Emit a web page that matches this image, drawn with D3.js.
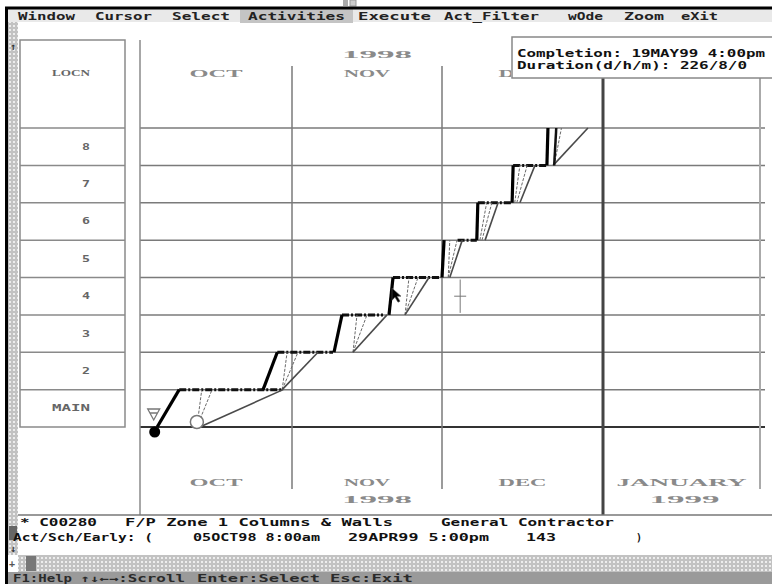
<!DOCTYPE html>
<html><head><meta charset="utf-8">
<script src="https://cdn.jsdelivr.net/npm/d3@7"></script>
<style>html,body{margin:0;padding:0;background:#fff;overflow:hidden}</style>
</head><body><svg id="c" width="772" height="584"></svg>
<script>
// ---------- data ----------
const locations = ["MAIN","2","3","4","5","6","7","8"];
const monthStarts = ["1998-10-01","1998-11-01","1998-12-01","1999-01-01","1999-02-01"];
const monthLabels = ["OCT","NOV","DEC","JANUARY"];
const yearLabels = ["1998","1999"];
const menuItems = ["Window","Cursor","Select","Activities","Execute","Act_Filter","wOde","Zoom","eXit"];
const activeMenu = "Activities";
// days after 01OCT98; index = location index
const critStart = [3.5, 25.1, 39.4, 50.4, 61.0, 67.7, 74.5, 81.2];
const critEnd   = [8.0, 28.0, 41.0, 51.2, 61.4, 67.9, 74.7, 81.4];
const extraCritLoc = [7];
const extraCritStart = [82.6];
const extraCritEnd = [83.0];
const floatLoc   = [0, 1, 2, 3, 4, 5, 6];
const floatStart = [8.0, 28.0, 41.0, 51.2, 64.0, 67.9, 74.7];
const floatEnd   = [29.2, 39.2, 49.2, 60.6, 67.7, 74.5, 81.2];
const lateStart = [12.2, 29.0, 43.2, 53.6, 62.5, 69.3, 76.0, 82.4];
const lateEnd   = [29.2, 36.2, 50.0, 58.4, 64.9, 71.8, 78.9, 89.1];
const thinLoc   = [0, 0, 1, 1, 2, 2, 3, 3, 4, 4, 5, 5, 6, 6, 7];
const thinStart = [11.6, 11.6, 29.0, 29.0, 43.2, 43.2, 53.6, 53.6, 62.2, 62.2, 68.3, 68.7, 75.0, 75.4, 82.6];
const thinEnd   = [12.6, 14.7, 30.0, 32.2, 44.0, 46.0, 54.4, 56.2, 62.5, 63.9, 69.6, 70.6, 76.0, 77.4, 84.0];
const earlyStartDay = 3.0;   // filled marker
const schedStartDay = 11.6;  // open marker
const cursorDay = 64.5;      // crosshair
const cursorLoc = 3;
const pointerDay = 51.0;
const completionLines = ["Completion: 19MAY99 4:00pm", "Duration(d/h/m): 226/8/0"];
const infoLine1 = ["* C00280", "F/P Zone 1 Columns & Walls", "General Contractor"];
const infoLine2 = ["Act/Sch/Early: (", "05OCT98 8:00am", "29APR99 5:00pm", "143", ")"];
const statusItems = ["F1:Help", "\u2191\u2193\u2190\u2192:Scroll", "Enter:Select", "Esc:Exit"];

// ---------- layout ----------
const W = 772, H = 584;
const menuX = [18, 95, 172, 248, 358, 444, 568, 624, 681];
const menuW = [57, 57, 58, 97, 73, 95, 35, 40, 37];
const info1X = [20, 125, 441], info1W = [77, 268, 173];
const info2X = [13, 193, 348, 526, 636], info2W = [140, 127, 141, 30, 6];
const statusX = [13, 80, 197, 330], statusW = [59, 105, 123, 83];
const MONO = "'DejaVu Sans Mono', 'Liberation Mono', monospace";
const SERIF = "'Liberation Serif', 'DejaVu Serif', serif";
const BOX_X = 512;

const parse = d3.timeParse("%Y-%m-%d");
const base = parse(monthStarts[0]);
const day = d => new Date(base.getTime() + d * 864e5);
const x = d3.scaleTime().domain(monthStarts.map(parse)).range([140, 292, 442, 603, 760]);
const yB = d3.scaleLinear().domain([0, locations.length]).range([427, 128]); // band boundaries
const X = d => x(day(d));

const svg = d3.select("#c");
const defs = svg.append("defs");
const pat = defs.append("pattern").attr("id","dots").attr("width",4).attr("height",4).attr("patternUnits","userSpaceOnUse");
pat.append("rect").attr("width",4).attr("height",4).attr("fill","#c2c2c2");
pat.append("rect").attr("x",1).attr("y",1).attr("width",2).attr("height",2).attr("fill","#ededed");
defs.append("clipPath").attr("id","leftOfBox").append("rect").attr("x",0).attr("y",0).attr("width",BOX_X-1).attr("height",H);

svg.append("rect").attr("width",W).attr("height",H).attr("fill","#fff");

function txt(g, px, py, s, w, o = {}) {
  const t = g.append("text").attr("x", px).attr("y", py).text(s)
    .attr("font-family", o.font || MONO).attr("font-size", o.size || 11)
    .attr("font-weight", o.weight || "bold").attr("fill", o.fill || "#111")
    .attr("text-anchor", o.anchor || "start").attr("dominant-baseline", "central");
  if (w) t.attr("textLength", w).attr("lengthAdjust", o.adj || "spacingAndGlyphs");
  return t;
}

// ---------- window chrome ----------
const chrome = svg.append("g");
chrome.append("rect").attr("x",343).attr("y",0).attr("width",5).attr("height",6).attr("fill","#aaa");
chrome.append("rect").attr("x",350).attr("y",0).attr("width",6).attr("height",6).attr("fill","#ccc").attr("stroke","#999");
chrome.append("rect").attr("x",8).attr("y",9).attr("width",W-8).attr("height",13).attr("fill","#e9e9e9");
menuItems.forEach((m, i) => {
  if (m === activeMenu) chrome.append("rect").attr("x", menuX[i]-8).attr("y",9).attr("width", menuW[i]+16).attr("height",14).attr("fill","#c4c4c4");
  txt(chrome, menuX[i], 16, m, menuW[i], {fill:"#222", size:11});
});
chrome.append("line").attr("x1",5).attr("x2",W).attr("y1",8).attr("y2",8).attr("stroke","#000").attr("stroke-width",3);
chrome.append("rect").attr("x",8).attr("y",22).attr("width",10).attr("height",533).attr("fill","url(#dots)");
chrome.append("rect").attr("x",18).attr("y",555).attr("width",W-18).attr("height",17).attr("fill","url(#dots)");
chrome.append("rect").attr("x",8).attr("y",555).attr("width",10).attr("height",17).attr("fill","#fff");
chrome.append("rect").attr("x",26).attr("y",556).attr("width",10).attr("height",15).attr("fill","#777");
chrome.append("rect").attr("x",9).attr("y",526).attr("width",8).attr("height",14).attr("fill","#666");
txt(chrome, 13, 46, "\u2191", null, {size:10, anchor:"middle", fill:"#333"});
txt(chrome, 13, 548, "\u2193", null, {size:10, anchor:"middle", fill:"#333"});
txt(chrome, 12, 563, "+", null, {size:10, anchor:"middle", fill:"#555"});
chrome.append("rect").attr("x",8).attr("y",572).attr("width",W-8).attr("height",12).attr("fill","#9a9a9a");
statusItems.forEach((s, i) => txt(chrome, statusX[i], 578, s, statusW[i], {fill:"#2a2a2a", size:10}));
chrome.append("line").attr("x1",6.5).attr("x2",6.5).attr("y1",7).attr("y2",H).attr("stroke","#000").attr("stroke-width",3);

// ---------- location panel ----------
const panel = svg.append("g");
panel.append("rect").attr("x",20).attr("y",40).attr("width",105).attr("height",387).attr("fill","none").attr("stroke","#8a8a8a").attr("stroke-width",1.5);
d3.range(1, locations.length + 1).forEach(i =>
  panel.append("line").attr("x1",20).attr("x2",125).attr("y1",yB(i)).attr("y2",yB(i)).attr("stroke","#8a8a8a").attr("stroke-width",1.5));
txt(panel, 90, 73, "LOCN", 38, {anchor:"end", fill:"#666", size:9, font:SERIF});
locations.forEach((l, i) => {
  const w = l.length === 1 ? 8 : 38;
  txt(panel, 90, (yB(i) + yB(i+1)) / 2, l, w, {anchor:"end", fill:"#666", size:9});
});

// ---------- grid ----------
const grid = svg.append("g");
const mDates = monthStarts.map(parse);
d3.range(1, locations.length + 1).forEach(i =>
  grid.append("line").attr("x1",140).attr("x2",765).attr("y1",yB(i)).attr("y2",yB(i)).attr("stroke","#7a7a7a").attr("stroke-width",1.5));
grid.append("line").attr("x1",140).attr("x2",765).attr("y1",yB(0)).attr("y2",yB(0)).attr("stroke","#333").attr("stroke-width",2);
grid.append("line").attr("x1",x(mDates[0])).attr("x2",x(mDates[0])).attr("y1",40).attr("y2",515).attr("stroke","#8a8a8a").attr("stroke-width",1.5);
[1, 2].forEach(i => grid.append("line").attr("x1",x(mDates[i])).attr("x2",x(mDates[i])).attr("y1",66).attr("y2",489).attr("stroke","#7a7a7a").attr("stroke-width",1.5));
grid.append("line").attr("x1",x(mDates[3])).attr("x2",x(mDates[3])).attr("y1",78).attr("y2",515).attr("stroke","#444").attr("stroke-width",3);
grid.append("line").attr("x1",x(mDates[4])).attr("x2",x(mDates[4])).attr("y1",78).attr("y2",489).attr("stroke","#aaa").attr("stroke-width",2);
grid.append("line").attr("x1",18).attr("x2",W).attr("y1",515).attr("y2",515).attr("stroke","#777").attr("stroke-width",1.5);

// month / year labels
const labW = [53, 46, 48, 130];
const monthCenter = i => x(new Date((mDates[i].getTime() + mDates[i+1].getTime()) / 2));
monthLabels.forEach((m, i) => {
  const cx = monthCenter(i);
  if (cx - labW[i] / 2 < BOX_X) {
    const t = txt(grid, cx, 73, m, labW[i], {anchor:"middle", font:SERIF, fill:"#8a8a8a", size:11});
    if (cx + labW[i] / 2 > BOX_X) t.attr("clip-path", "url(#leftOfBox)");
  }
  txt(grid, cx, 482, m, labW[i], {anchor:"middle", font:SERIF, fill:"#8a8a8a", size:11});
});
const midNov = monthCenter(1) + 10;
const midJan = monthCenter(3) + 3;
txt(grid, midNov, 54, yearLabels[0], 70, {anchor:"middle", font:SERIF, fill:"#8a8a8a", size:11});
txt(grid, midNov, 499, yearLabels[0], 70, {anchor:"middle", font:SERIF, fill:"#8a8a8a", size:11});
txt(grid, midJan, 499, yearLabels[1], 70, {anchor:"middle", font:SERIF, fill:"#8a8a8a", size:11});

// ---------- marks ----------
const marks = svg.append("g");
floatLoc.forEach((l, i) => marks.append("line")
  .attr("x1", X(floatStart[i])).attr("x2", X(floatEnd[i])).attr("y1", yB(l+1)).attr("y2", yB(l+1))
  .attr("stroke","#111").attr("stroke-width",3).attr("stroke-dasharray","7,2,2,2"));
thinLoc.forEach((l, i) => marks.append("line")
  .attr("x1", X(thinStart[i])).attr("x2", X(thinEnd[i])).attr("y1", yB(l)).attr("y2", yB(l+1))
  .attr("stroke","#6a6a6a").attr("stroke-width",1).attr("stroke-dasharray","3,1.5"));
lateStart.forEach((s, i) => marks.append("line")
  .attr("x1", X(s)).attr("x2", X(lateEnd[i])).attr("y1", yB(i)).attr("y2", yB(i+1))
  .attr("stroke","#4a4a4a").attr("stroke-width",1.6));
critStart.forEach((s, i) => marks.append("line")
  .attr("x1", X(s)).attr("x2", X(critEnd[i])).attr("y1", yB(i)).attr("y2", yB(i+1))
  .attr("stroke","#000").attr("stroke-width",3.2));
extraCritLoc.forEach((l, i) => marks.append("line")
  .attr("x1", X(extraCritStart[i])).attr("x2", X(extraCritEnd[i])).attr("y1", yB(l)).attr("y2", yB(l+1))
  .attr("stroke","#111").attr("stroke-width",2.5));
const ex = X(earlyStartDay);
marks.append("path").attr("d", `M${ex-7},${yB(0)-18} L${ex+5},${yB(0)-18} L${ex-1},${yB(0)-7} Z M${ex-5},${yB(0)-14} L${ex+3},${yB(0)-14}`)
  .attr("fill","#fff").attr("stroke","#777").attr("stroke-width",1.3);
marks.append("circle").attr("cx", ex).attr("cy", yB(0)+5).attr("r",5.5).attr("fill","#000");
marks.append("circle").attr("cx", X(schedStartDay)).attr("cy", yB(0)-5).attr("r",6.5).attr("fill","#fff").attr("stroke","#777").attr("stroke-width",1.5);
const cx0 = X(cursorDay), cyM = (yB(cursorLoc) + yB(cursorLoc+1)) / 2;
marks.append("line").attr("x1",cx0).attr("x2",cx0).attr("y1",yB(cursorLoc+1)+2).attr("y2",yB(cursorLoc)-2).attr("stroke","#777").attr("stroke-width",1);
marks.append("line").attr("x1",cx0-6).attr("x2",cx0+6).attr("y1",cyM).attr("y2",cyM).attr("stroke","#777").attr("stroke-width",1);
const px = X(pointerDay), py = cyM - 8;
marks.append("path").attr("d", `M${px},${py} L${px},${py+12} L${px+3},${py+9} L${px+6},${py+14} L${px+8},${py+13} L${px+5},${py+8} L${px+9},${py+8} Z`)
  .attr("fill","#000").attr("stroke","#555").attr("stroke-width",0.6);

// ---------- completion box ----------
const box = svg.append("g");
box.append("rect").attr("x",BOX_X).attr("y",37).attr("width",W-BOX_X+2).attr("height",41).attr("fill","#fff").attr("stroke","#888").attr("stroke-width",1.5);
txt(box, 517, 53, completionLines[0], 248, {size:11});
txt(box, 517, 65, completionLines[1], 230, {size:11});

// ---------- info lines ----------
const info = svg.append("g");
infoLine1.forEach((s, i) => txt(info, info1X[i], 522, s, info1W[i], {size:11}));
infoLine2.forEach((s, i) => txt(info, info2X[i], 537, s, info2W[i], {size:11}));
</script></body></html>
